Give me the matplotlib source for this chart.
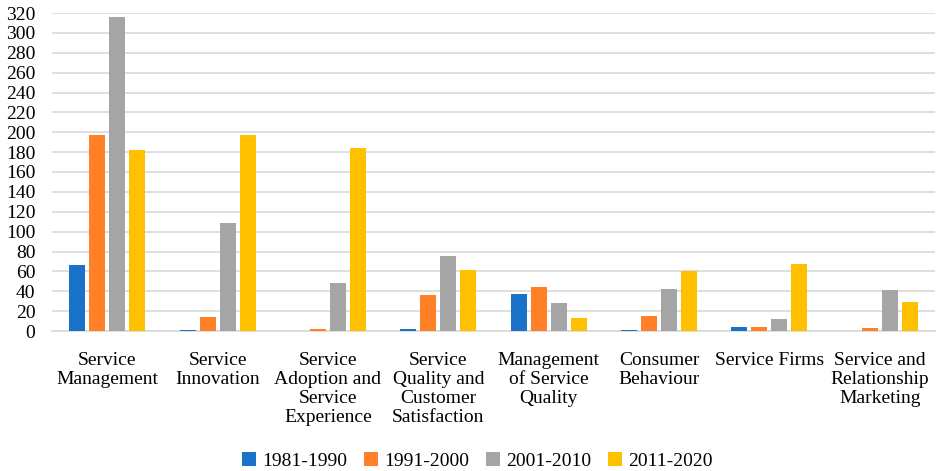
import numpy as np
import matplotlib.pyplot as plt

plt.rcParams['font.family'] = ['Liberation Serif', 'DejaVu Serif']

categories = ['Service\nManagement', 'Service\nInnovation', 'Service\nAdoption and\nService\nExperience',
              'Service\nQuality and\nCustomer\nSatisfaction', 'Management\nof Service\nQuality',
              'Consumer\nBehaviour', 'Service Firms', 'Service and\nRelationship\nMarketing']
periods = ['1981-1990', '1991-2000', '2001-2010', '2011-2020']
v_1981 = [66, 1, 0, 2, 37, 1, 4, 0]
v_1991 = [197, 14, 2, 36, 44, 15, 4, 3]
v_2001 = [316, 109, 48, 75, 28, 42, 12, 41]
v_2011 = [182, 197, 184, 61, 13, 60, 67, 29]
colors = ['#1A73C9', '#FF8026', '#A5A5A5', '#FFC000']

fig = plt.figure(figsize=(9.36, 4.71), dpi=100)
ax = fig.add_axes([52/936, 1 - 331/471, 883/936, 318/471])

x = np.arange(len(categories))
w = 0.145
step = 0.181
for i, (vals, lab) in enumerate(zip([v_1981, v_1991, v_2001, v_2011], periods)):
    ax.bar(x + (i - 1.5) * step, vals, w, color=colors[i], label=lab, zorder=3)

ax.set_xlim(-0.5, len(categories) - 0.5)
ax.set_ylim(0, 320)
ax.set_yticks(np.arange(0, 321, 20))
ax.yaxis.grid(True, color='#D9D9D9', linewidth=1.2, zorder=0)
for s in ['top', 'right', 'left']:
    ax.spines[s].set_visible(False)
ax.spines['bottom'].set_color('#D9D9D9')
ax.spines['bottom'].set_linewidth(1.2)
ax.tick_params(axis='both', length=0, labelsize=14, colors='black')
ax.tick_params(axis='y', pad=12)
ax.tick_params(axis='x', pad=15)
ax.set_xticks(x)
ax.set_xticklabels(categories, va='top', linespacing=1.15)

fig.legend(loc='lower center', ncol=4, frameon=False, fontsize=14,
           bbox_to_anchor=(0.51, -0.035), handlelength=0.7, handleheight=0.7,
           columnspacing=0.9, handletextpad=0.3)

fig.savefig('out.png', dpi=100)
